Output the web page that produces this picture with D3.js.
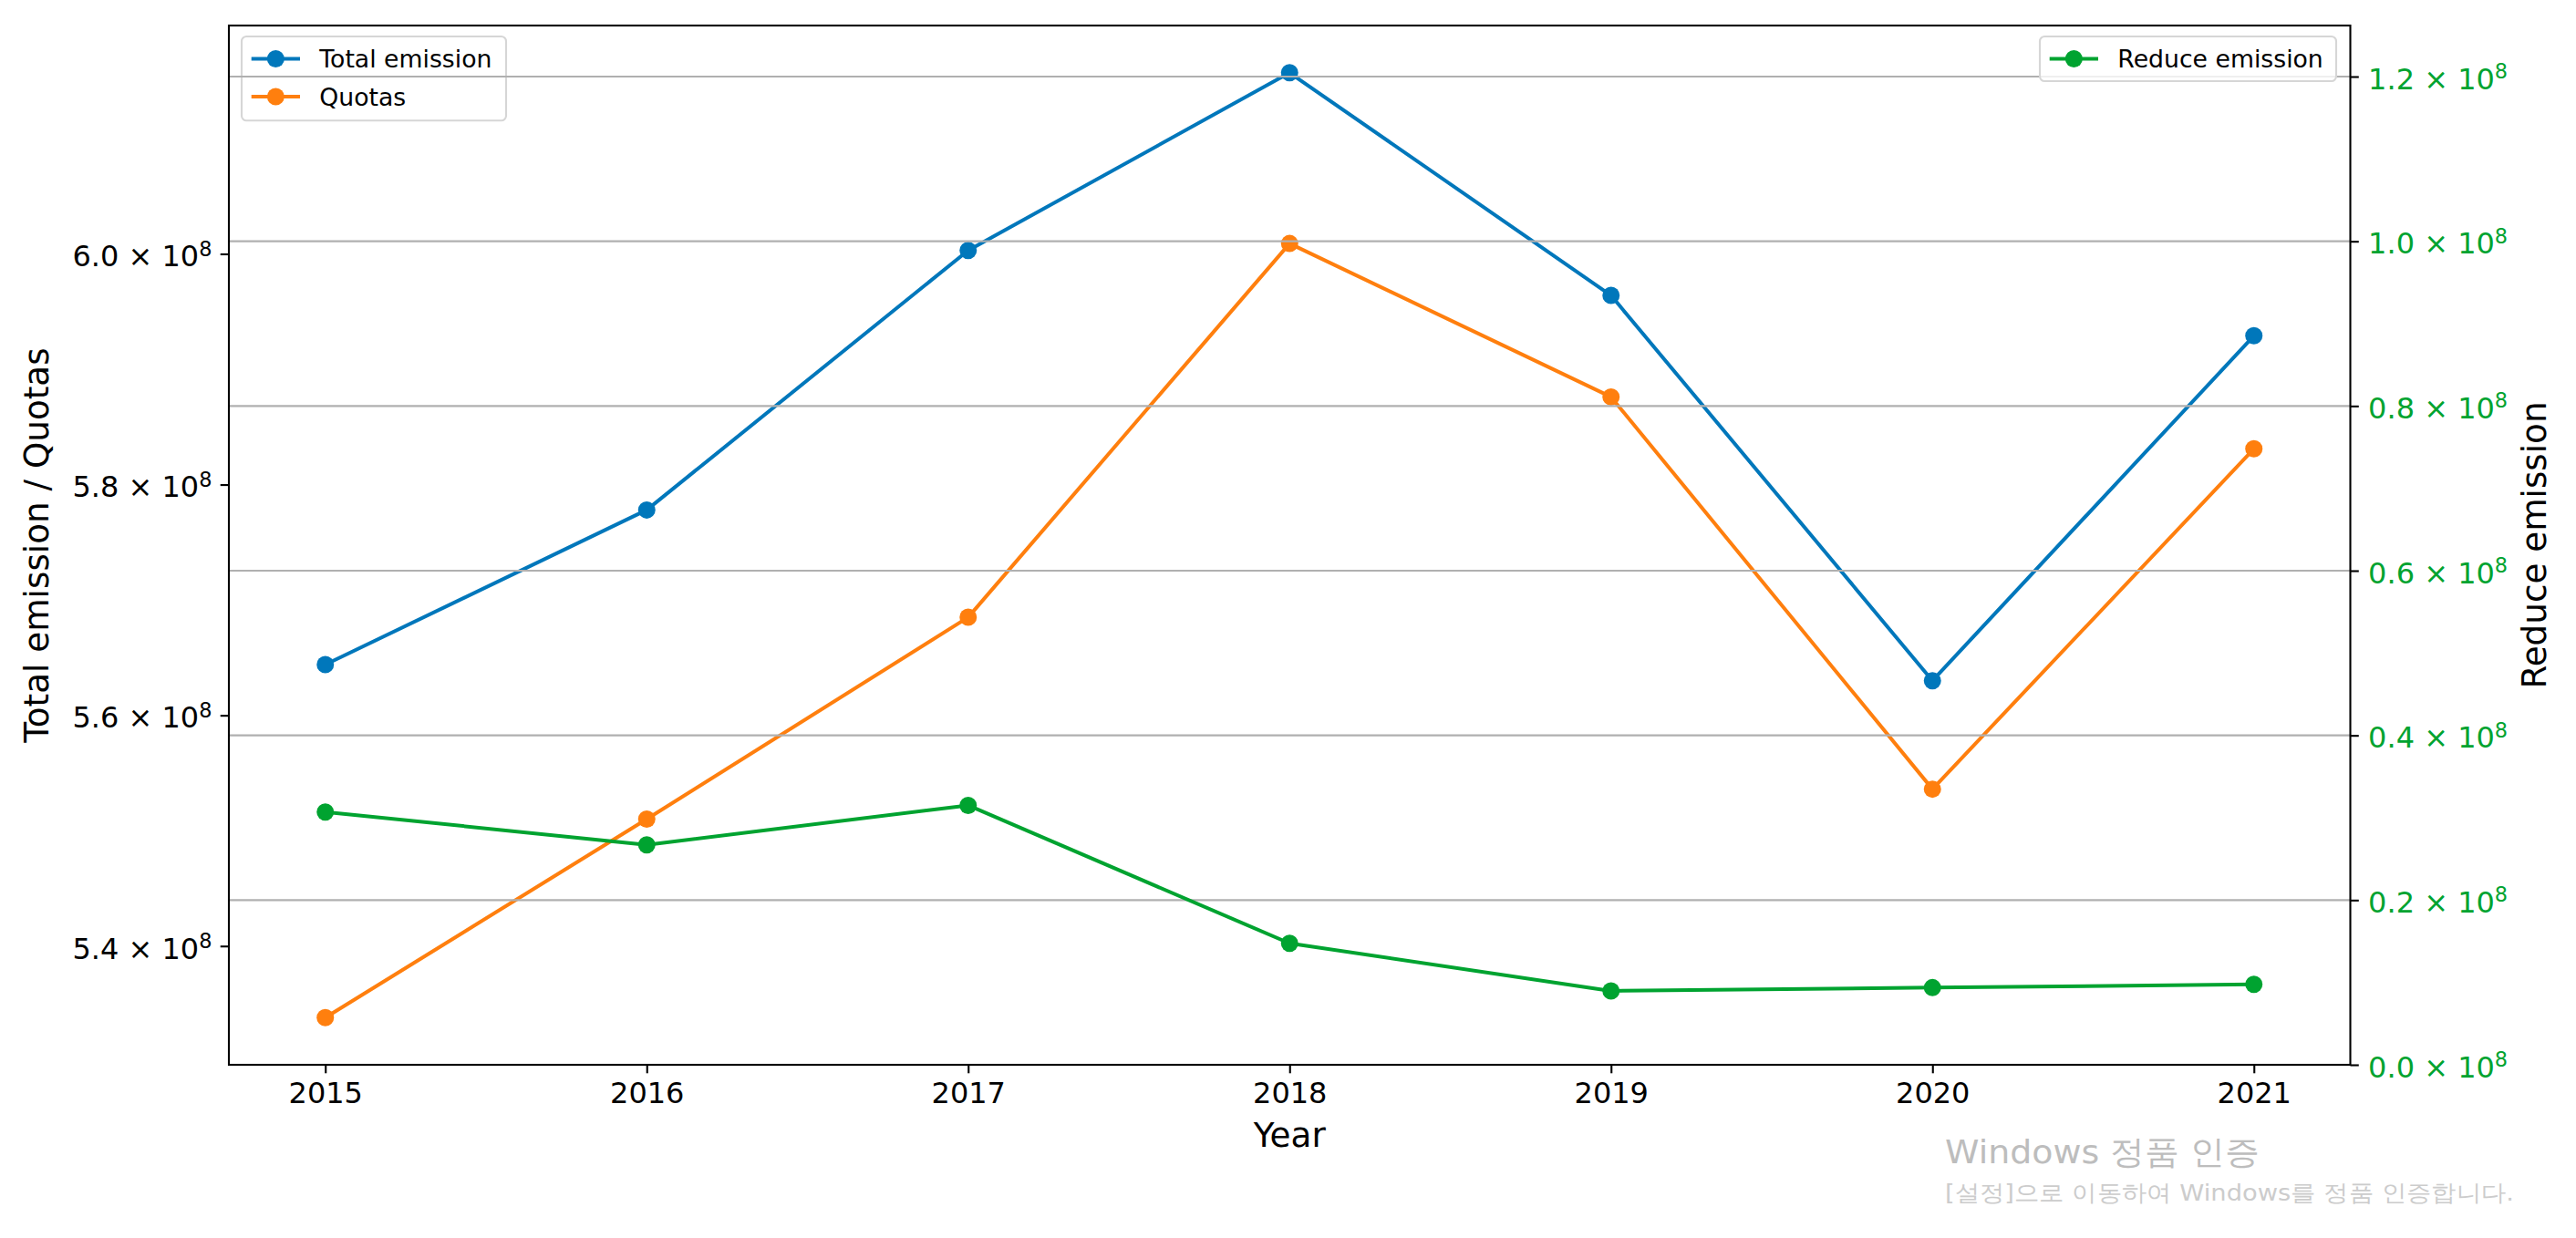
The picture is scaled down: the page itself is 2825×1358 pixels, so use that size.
<!DOCTYPE html>
<html>
<head>
<meta charset="utf-8">
<script src="https://cdn.jsdelivr.net/npm/d3@7"></script>
<style>
  html, body { margin: 0; padding: 0; background: #ffffff; }
  svg { display: block; }
  text { font-family: "DejaVu Sans", sans-serif; }
</style>
</head>
<body>
<script>
// ---- data ----
const years = [2015, 2016, 2017, 2018, 2019, 2020, 2021];
const totalEmission = [5.644e8, 5.778e8, 6.003e8, 6.157e8, 5.964e8, 5.630e8, 5.929e8];
const quotas = [5.338e8, 5.510e8, 5.685e8, 6.009e8, 5.876e8, 5.536e8, 5.831e8];
const reduceEmission = [0.3070e8, 0.2671e8, 0.3150e8, 0.1475e8, 0.0897e8, 0.0937e8, 0.0976e8];
const leftTicks = [5.4e8, 5.6e8, 5.8e8, 6.0e8];
const rightTicks = [0, 0.2e8, 0.4e8, 0.6e8, 0.8e8, 1.0e8, 1.2e8];
const rightAxisMax = 1.262e8;
const xLabel = "Year";
const leftLabel = "Total emission / Quotas";
const rightLabel = "Reduce emission";
const leftLegend = ["Total emission", "Quotas"];
const rightLegend = ["Reduce emission"];
const watermark1 = "Windows 정품 인증";
const watermark2 = "[설정]으로 이동하여 Windows를 정품 인증합니다.";

// ---- styles ----
const W = 2825, H = 1358;
const plot = { left: 251, right: 2577.5, top: 28, bottom: 1168 };
const colBlue = "#0077bb", colOrange = "#ff7f0e", colGreen = "#00a330";
const tickFont = 32, labelFont = 37.3, legendFont = 26.7;
const tickLen = 9.3, tickPad = 9.3;
const lineW = 4, markerR = 9.5;

const svg = d3.select("body").append("svg").attr("width", W).attr("height", H);
svg.append("rect").attr("width", W).attr("height", H).attr("fill", "#fff");

// scales
const x = d3.scaleLinear().domain([years[0] - 0.3, years[years.length - 1] + 0.3])
  .range([plot.left, plot.right]);
const allLeft = totalEmission.concat(quotas);
const lmin = d3.min(allLeft), lmax = d3.max(allLeft), lpad = (lmax - lmin) * 0.05;
const yL = d3.scaleLinear().domain([lmin - lpad, lmax + lpad]).range([plot.bottom, plot.top]);
const yR = d3.scaleLinear().domain([0, rightAxisMax]).range([plot.bottom, plot.top]);

function sciLabel(sel, v) {
  sel.text(null);
  sel.append("tspan").text((v / 1e8).toFixed(1) + " × 10");
  sel.append("tspan").attr("dy", -11.7).attr("font-size", tickFont * 0.7).text("8");
}

// ---- left axis lines (ax1) ----
function drawSeries(g, vals, yScale, color) {
  const line = d3.line().x((d, i) => x(years[i])).y(d => yScale(d));
  g.append("path").datum(vals).attr("d", line).attr("fill", "none")
    .attr("stroke", color).attr("stroke-width", lineW).attr("stroke-linejoin", "round");
  g.selectAll(null).data(vals).enter().append("circle")
    .attr("cx", (d, i) => x(years[i])).attr("cy", d => yScale(d))
    .attr("r", markerR).attr("fill", color);
}
const g1 = svg.append("g");
drawSeries(g1, totalEmission, yL, colBlue);
drawSeries(g1, quotas, yL, colOrange);

function drawLegend(g, x0, y0, labels, colors, rowYs, boxW) {
  const boxH = rowYs.length === 1 ? 49 : 92.3;
  g.append("rect").attr("x", x0).attr("y", y0).attr("width", boxW).attr("height", boxH)
    .attr("rx", 5.3).attr("fill", "#fff").attr("fill-opacity", 0.8)
    .attr("stroke", "#d6d6d6").attr("stroke-width", 2.1);
  labels.forEach((lab, i) => {
    const cy = rowYs[i];
    const hx0 = x0 + 10.7, hx1 = hx0 + 53.3;
    g.append("line").attr("x1", hx0).attr("x2", hx1).attr("y1", cy).attr("y2", cy)
      .attr("stroke", colors[i]).attr("stroke-width", lineW);
    g.append("circle").attr("cx", (hx0 + hx1) / 2).attr("cy", cy).attr("r", markerR).attr("fill", colors[i]);
    g.append("text").attr("x", hx1 + 21.3).attr("y", cy + 9.7)
      .attr("font-size", legendFont).attr("fill", "#000").text(lab);
  });
}
drawLegend(g1, 265, 40, leftLegend, [colBlue, colOrange], [64.5, 106], 290);

// ---- ax2: grid, green line, right legend ----
const g2 = svg.append("g");
g2.selectAll(null).data(rightTicks.filter(v => v > 0)).enter().append("line")
  .attr("x1", plot.left).attr("x2", plot.right)
  .attr("y1", d => yR(d)).attr("y2", d => yR(d))
  .attr("stroke", "#b0b0b0").attr("stroke-width", 2.1);
drawSeries(g2, reduceEmission, yR, colGreen);
drawLegend(g2, 2237, 40, rightLegend, [colGreen], [64.5], 325);

// ---- axes ----
const axL = svg.append("g").attr("transform", `translate(${plot.left},0)`)
  .call(d3.axisLeft(yL).tickValues(leftTicks).tickSize(tickLen).tickPadding(tickPad).tickFormat(""));
axL.select(".domain").remove();
axL.selectAll(".tick line").attr("stroke", "#000").attr("stroke-width", 2.1);
axL.selectAll(".tick").each(function(v) {
  const t = d3.select(this).append("text").attr("x", -(tickLen + tickPad)).attr("y", 13.3)
    .attr("text-anchor", "end").attr("font-size", tickFont).attr("fill", "#000");
  sciLabel(t, v);
});

const axR = svg.append("g").attr("transform", `translate(${plot.right},0)`)
  .call(d3.axisRight(yR).tickValues(rightTicks).tickSize(tickLen).tickPadding(tickPad).tickFormat(""));
axR.select(".domain").remove();
axR.selectAll(".tick line").attr("stroke", "#000").attr("stroke-width", 2.1);
axR.selectAll(".tick").each(function(v) {
  const t = d3.select(this).append("text").attr("x", tickLen + tickPad + 1).attr("y", 13.3)
    .attr("text-anchor", "start").attr("font-size", tickFont).attr("fill", colGreen);
  sciLabel(t, v);
});

const axX = svg.append("g").attr("transform", `translate(0,${plot.bottom})`)
  .call(d3.axisBottom(x).tickValues(years).tickSize(tickLen).tickPadding(tickPad).tickFormat(d3.format("d")));
axX.select(".domain").remove();
axX.selectAll(".tick line").attr("stroke", "#000").attr("stroke-width", 2.1);
axX.selectAll(".tick text").attr("font-size", tickFont).attr("fill", "#000")
  .attr("font-family", "DejaVu Sans").attr("dy", null).attr("y", tickLen + tickPad + 23.4);

// frame
svg.append("rect").attr("x", plot.left).attr("y", plot.top)
  .attr("width", plot.right - plot.left).attr("height", plot.bottom - plot.top)
  .attr("fill", "none").attr("stroke", "#000").attr("stroke-width", 2.1);

// axis labels
svg.append("text").attr("x", (plot.left + plot.right) / 2).attr("y", 1258.3)
  .attr("text-anchor", "middle").attr("font-size", labelFont).attr("fill", "#000").text(xLabel);
svg.append("text").attr("transform", `translate(53.3,${(plot.top + plot.bottom) / 2}) rotate(-90)`)
  .attr("text-anchor", "middle").attr("font-size", labelFont).attr("fill", "#000").text(leftLabel);
svg.append("text").attr("transform", `translate(2791.7,${(plot.top + plot.bottom) / 2}) rotate(-90)`)
  .attr("text-anchor", "middle").attr("font-size", labelFont).attr("fill", "#000").text(rightLabel);

// watermark
svg.append("text").attr("x", 2133).attr("y", 1276)
  .attr("font-family", "'Noto Sans CJK KR', sans-serif").attr("font-size", 36)
  .attr("fill", "#bdbdbd").attr("textLength", 345).attr("lengthAdjust", "spacingAndGlyphs")
  .text(watermark1);
svg.append("text").attr("x", 2133).attr("y", 1317)
  .attr("font-family", "'Noto Sans CJK KR', sans-serif").attr("font-size", 25)
  .attr("fill", "#cccccc").attr("textLength", 624).attr("lengthAdjust", "spacingAndGlyphs")
  .text(watermark2);
</script>
</body>
</html>
